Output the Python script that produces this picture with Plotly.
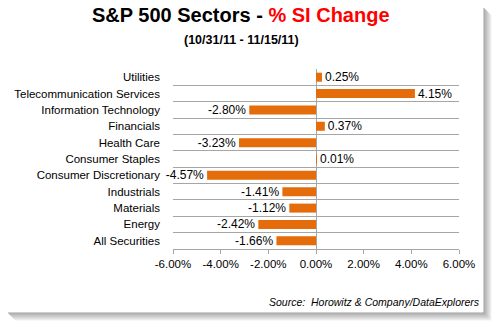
import plotly.graph_objects as go

categories = ["Utilities", "Telecommunication Services", "Information Technology",
              "Financials", "Health Care", "Consumer Staples", "Consumer Discretionary",
              "Industrials", "Materials", "Energy", "All Securities"]
values = [0.25, 4.15, -2.80, 0.37, -3.23, 0.01, -4.57, -1.41, -1.12, -2.42, -1.66]
x_ticks = [-6, -4, -2, 0, 2, 4, 6]

W, H = 498, 327
BAR = "#E46C0A"
GRID = "#A6A6A6"
FONT = "Liberation Sans"

fig = go.Figure()
fig.add_trace(go.Bar(
    x=values, y=categories, orientation="h",
    marker=dict(color=BAR, line=dict(width=0)),
    width=0.55,
    text=[f"{v:.2f}%" for v in values],
    textposition="outside",
    constraintext="none",
    textfont=dict(family=FONT, size=12, color="#000000"),
    cliponaxis=False,
    hoverinfo="skip",
))

shapes = []
# drop shadow on right and bottom of the frame
for i in range(8):
    op = 0.55 * (1 - i / 8)
    shapes.append(dict(type="line", xref="paper", yref="paper",
                       x0=(484 - 173 + i) / (W - 173 - 39), x1=(484 - 173 + i) / (W - 173 - 39),
                       y0=(H - 78 - (8 + i)) / (H - 69 - 78), y1=(H - 78 - (313 + i)) / (H - 69 - 78),
                       line=dict(color=f"rgba(80,80,80,{op:.2f})", width=1)))
    shapes.append(dict(type="line", xref="paper", yref="paper",
                       x0=(8 + i - 173) / (W - 173 - 39), x1=(484 + i - 173) / (W - 173 - 39),
                       y0=(H - 78 - (313 + i)) / (H - 69 - 78), y1=(H - 78 - (313 + i)) / (H - 69 - 78),
                       line=dict(color=f"rgba(80,80,80,{op:.2f})", width=1)))

fig.update_layout(
    width=W, height=H,
    margin=dict(l=173, r=39, t=69, b=78),
    paper_bgcolor="white", plot_bgcolor="white",
    showlegend=False,
    bargap=0.45,
    shapes=shapes,
    xaxis=dict(
        range=[-6, 6], tickvals=x_ticks,
        ticktext=[f"{t:.2f}%" for t in x_ticks],
        showgrid=False, zeroline=True, zerolinecolor=GRID, zerolinewidth=1,
        showline=True, linecolor=GRID, linewidth=1,
        ticks="outside", ticklen=4, tickcolor=GRID,
        tickfont=dict(family=FONT, size=11.5, color="#000000"),
        fixedrange=True,
    ),
    yaxis=dict(
        categoryorder="array", categoryarray=categories, autorange="reversed",
        tickson="boundaries", showgrid=True, gridcolor=GRID, gridwidth=1,
        showline=False, ticks="", ticklabelstandoff=12,
        tickfont=dict(family=FONT, size=11.5, color="#000000"),
        fixedrange=True,
    ),
    annotations=[
        dict(text="<b>S&amp;P 500 Sectors - <span style='color:#FF0000'>% SI Change</span></b>",
             xref="paper", yref="paper", x=(241 - 173) / 286, y=(H - 78 - 15) / 180,
             xanchor="center", yanchor="middle", showarrow=False,
             font=dict(family=FONT, size=20, color="#000000")),
        dict(text="<b>(10/31/11 - 11/15/11)</b>",
             xref="paper", yref="paper", x=(241 - 173) / 286, y=(H - 78 - 40) / 180,
             xanchor="center", yanchor="middle", showarrow=False,
             font=dict(family=FONT, size=12.5, color="#000000")),
        dict(text="<i>Source:  Horowitz &amp; Company/DataExplorers</i>",
             xref="paper", yref="paper", x=(482 - 173) / 286, y=(H - 78 - 302) / 180,
             xanchor="right", yanchor="middle", showarrow=False,
             font=dict(family=FONT, size=10.5, color="#000000")),
    ],
)

fig.write_html("out.html")
